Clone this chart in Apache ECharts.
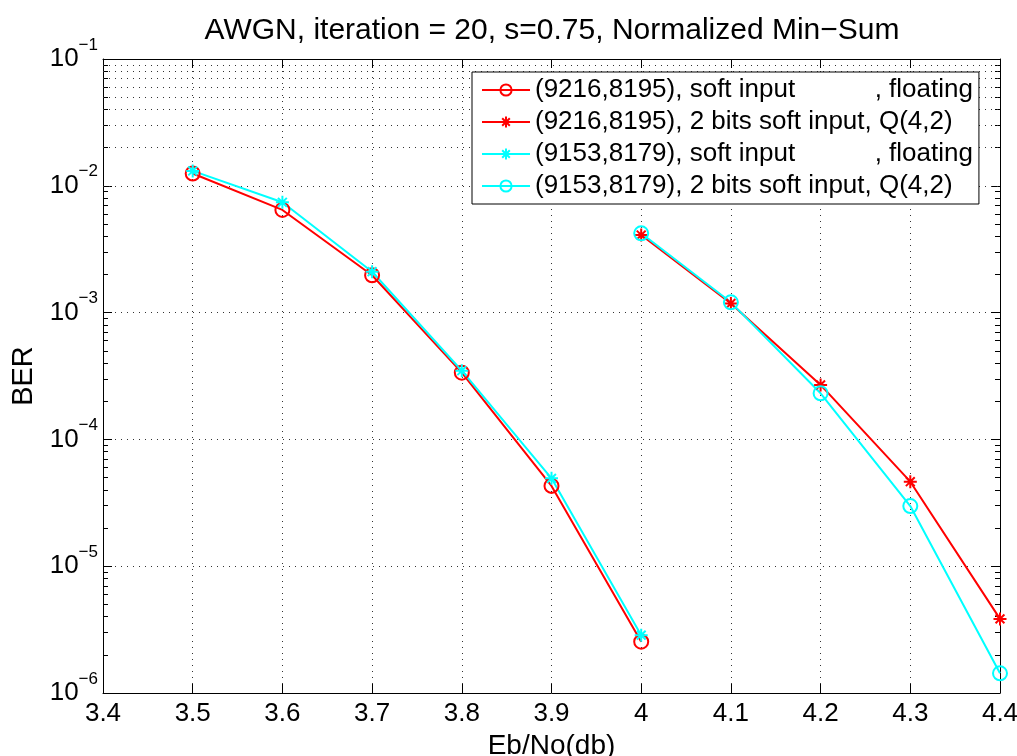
<!DOCTYPE html>
<html>
<head>
<meta charset="utf-8">
<script src="https://cdn.jsdelivr.net/npm/echarts@6/dist/echarts.min.js"></script>
<style>html,body{margin:0;padding:0;background:#fff}#c{width:1017px;height:756px}</style>
</head>
<body>
<div id="c"></div>
<script>
// Data
const ebnoA = [3.5, 3.6, 3.7, 3.8, 3.9, 4.0];
const ebnoB = [4.0, 4.1, 4.2, 4.3, 4.4];
const ber9216Float = [0.0125, 0.00645, 0.00197, 3.36e-4, 4.30e-5, 2.54e-6];
const ber9216Q42   = [4.09e-3, 1.18e-3, 2.69e-4, 4.64e-5, 3.84e-6];
const ber9153Float = [0.0131, 0.00741, 0.0021, 3.48e-4, 4.93e-5, 2.86e-6];
const ber9153Q42   = [4.22e-3, 1.205e-3, 2.31e-4, 2.98e-5, 1.43e-6];
const seriesNames = [
  '(9216,8195), soft input           , floating',
  '(9216,8195), 2 bits soft input, Q(4,2)',
  '(9153,8179), soft input           , floating',
  '(9153,8179), 2 bits soft input, Q(4,2)'
];
const xTicks = [3.4, 3.5, 3.6, 3.7, 3.8, 3.9, 4.0, 4.1, 4.2, 4.3, 4.4];
const decades = [-6, -5, -4, -3, -2, -1];
const minorMult = [2, 3, 4, 5, 6, 7, 8, 9];

const FONT = "'Liberation Sans', Arial, sans-serif";
const pairs = (xs, ys) => xs.map((x, i) => [x, ys[i]]);
const STAR = 'path://M5,0L5,10M0,5L10,5M1.6,1.6L8.4,8.4M8.4,1.6L1.6,8.4';
const gridDot = { color: '#333', width: 1, type: [1, 5] };

const minorLines = [];
decades.slice(0, 5).forEach(d => minorMult.forEach(m => minorLines.push({ yAxis: m * Math.pow(10, d) })));

function mk(name, xs, ys, color, sym) {
  const circle = sym === 'o';
  return {
    name, type: 'line', data: pairs(xs, ys),
    symbol: circle ? 'circle' : STAR,
    symbolSize: circle ? 14 : 13,
    lineStyle: { color, width: 2 },
    itemStyle: { color: circle ? 'rgba(0,0,0,0)' : color, borderColor: color, borderWidth: 2 },
    z: 3
  };
}

const chart = echarts.init(document.getElementById('c'), null, { renderer: 'canvas' });
chart.setOption({
  animation: false,
  backgroundColor: '#fff',
  textStyle: { fontFamily: FONT },
  title: {
    text: 'AWGN, iteration = 20, s=0.75, Normalized Min\u2212Sum',
    left: 547, textAlign: 'center', top: 11,
    textStyle: { fontFamily: FONT, fontSize: 30, fontWeight: 'normal', color: '#000' }
  },
  grid: { left: 103, right: 17, top: 59, bottom: 63, containLabel: false, outerBoundsMode: 'none' },
  legend: {
    data: seriesNames,
    orient: 'vertical', left: 472, top: 72,
    padding: [5, 6, 5, 9],
    itemWidth: 48, itemHeight: 14, itemGap: 6,
    backgroundColor: '#fff', borderColor: '#000', borderWidth: 1, borderRadius: 0,
    textStyle: { fontFamily: FONT, fontSize: 26, lineHeight: 26, color: '#000' }
  },
  xAxis: [{
    type: 'value', min: 3.4, max: 4.4, interval: 0.1,
    name: 'Eb/No(db)', nameLocation: 'middle', nameGap: 36,
    nameTextStyle: { fontFamily: FONT, fontSize: 28, color: '#000' },
    axisLine: { lineStyle: { color: '#000', width: 1 } },
    axisTick: { inside: true, length: 9, lineStyle: { color: '#000' } },
    axisLabel: { fontFamily: FONT, fontSize: 26, color: '#000', margin: 8,
      formatter: v => String(Math.round(v * 10) / 10) },
    splitLine: { show: true, lineStyle: gridDot }
  }, {
    type: 'value', position: 'top', min: 3.4, max: 4.4, interval: 0.1,
    axisLine: { lineStyle: { color: '#000', width: 1 } },
    axisTick: { inside: true, length: 9, lineStyle: { color: '#000' } },
    axisLabel: { show: false }, splitLine: { show: false }
  }],
  yAxis: [{
    type: 'log', logBase: 10, min: 1e-6, max: 1e-1,
    name: 'BER', nameLocation: 'middle', nameGap: 62,
    nameTextStyle: { fontFamily: FONT, fontSize: 29, color: '#000' },
    axisLine: { lineStyle: { color: '#000', width: 1 } },
    axisTick: { inside: true, length: 9, lineStyle: { color: '#000' } },
    minorTick: { show: true, splitNumber: 9, length: 5, lineStyle: { color: '#000' } },
    axisLabel: {
      margin: 5, color: '#000',
      formatter: v => '{b|10}{e|\u2212' + Math.round(-Math.log10(v)) + '}',
      rich: {
        b: { fontFamily: FONT, fontSize: 26, color: '#000' },
        e: { fontFamily: FONT, fontSize: 17, color: '#000', padding: [0, 0, 28, 0] }
      }
    },
    splitLine: { show: true, lineStyle: gridDot }
  }, {
    type: 'log', logBase: 10, min: 1e-6, max: 1e-1, position: 'right',
    axisLine: { lineStyle: { color: '#000', width: 1 } },
    axisTick: { inside: true, length: 9, lineStyle: { color: '#000' } },
    minorTick: { show: true, splitNumber: 9, length: 5, lineStyle: { color: '#000' } },
    axisLabel: { show: false }, splitLine: { show: false }
  }],
  series: [
    {
      name: 'minor-grid', type: 'line', data: [], z: 1, silent: true,
      markLine: {
        silent: true, symbol: ['none', 'none'], z: 1, animation: false,
        label: { show: false }, lineStyle: gridDot, emphasis: { disabled: true },
        data: minorLines
      }
    },
    mk(seriesNames[0], ebnoA, ber9216Float, '#ff0000', 'o'),
    mk(seriesNames[1], ebnoB, ber9216Q42, '#ff0000', '*'),
    mk(seriesNames[2], ebnoA, ber9153Float, '#00ffff', '*'),
    mk(seriesNames[3], ebnoB, ber9153Q42, '#00ffff', 'o')
  ]
});
</script>
</body>
</html>
